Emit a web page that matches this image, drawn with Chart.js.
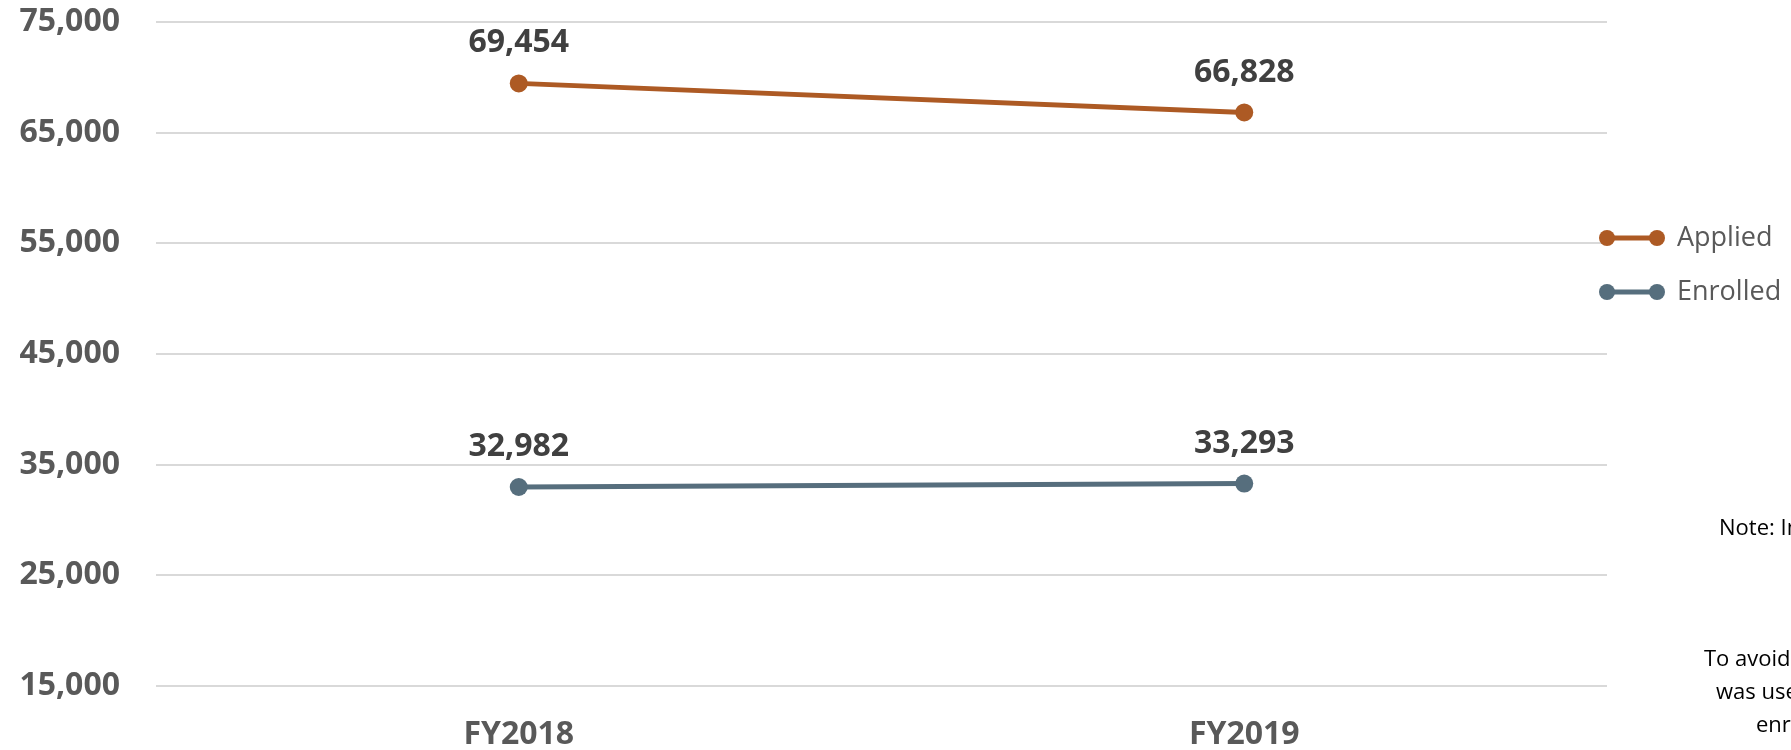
<!DOCTYPE html>
<html>
<head>
<meta charset="utf-8">
<script src="https://cdn.jsdelivr.net/npm/chart.js@4/dist/chart.umd.min.js"></script>
<style>
  html, body { margin: 0; padding: 0; background: #fff; }
  #wrap { width: 1791px; height: 750px; position: relative; }
</style>
</head>
<body>
<div id="wrap"><canvas id="myChart" width="1791" height="750"></canvas></div>
<script>
const categories = ['FY2018', 'FY2019'];
const applied = [69454, 66828];
const enrolled = [32982, 33293];
const seriesNames = ['Applied', 'Enrolled'];
const yMin = 15000;
const yMax = 75000;
const yStep = 10000;
const noteLines = [
    'Note: Includes all campuses',
    'To avoid duplication, a unique headcount',
    'was used for applied and',
    'enrolled students.'
];

const FONT = "'Open Sans', 'DejaVu Sans', sans-serif";

const fmt = v => Number(v).toLocaleString('en-US');

// values drawn above each point
const pointLabels = {
    id: 'pointLabels',
    afterDatasetsDraw(chart) {
        const ctx = chart.ctx;
        ctx.save();
        ctx.font = 'bold 32px ' + FONT;
        ctx.fillStyle = '#404040';
        ctx.textAlign = 'center';
        ctx.textBaseline = 'middle';
        chart.data.datasets.forEach((ds, i) => {
            chart.getDatasetMeta(i).data.forEach((pt, j) => {
                ctx.fillText(fmt(ds.data[j]), pt.x, pt.y - 40);
            });
        });
        ctx.restore();
    }
};

// legend with line + two dots, like the spreadsheet one
const sideLegend = {
    id: 'sideLegend',
    afterDraw(chart) {
        const ctx = chart.ctx;
        const x0 = 1607, x1 = 1657;
        const ys = [238, 292];
        ctx.save();
        chart.data.datasets.forEach((ds, i) => {
            const y = ys[i];
            ctx.strokeStyle = ds.borderColor;
            ctx.lineWidth = 5;
            ctx.beginPath();
            ctx.moveTo(x0, y);
            ctx.lineTo(x1, y);
            ctx.stroke();
            ctx.fillStyle = ds.borderColor;
            [x0, x1].forEach(x => {
                ctx.beginPath();
                ctx.arc(x, y, 8, 0, Math.PI * 2);
                ctx.fill();
            });
            ctx.fillStyle = '#595959';
            ctx.font = '27px ' + FONT;
            ctx.textAlign = 'left';
            ctx.textBaseline = 'middle';
            ctx.fillText(ds.label, 1677, y);
        });

        // note text, cut off at the right edge
        ctx.fillStyle = '#000';
        ctx.font = '22px ' + FONT;
        ctx.textBaseline = 'middle';
        const nx = [1719, 1704, 1716, 1756];
        const ny = [529, 660, 693, 726];
        noteLines.forEach((t, i) => ctx.fillText(t, nx[i], ny[i]));
        ctx.restore();
    }
};

const ctx = document.getElementById('myChart').getContext('2d');

const myChart = new Chart(ctx, {
    type: 'line',
    data: {
        labels: categories,
        datasets: [
            {
                label: seriesNames[0],
                data: applied,
                borderColor: '#AD5A24',
                backgroundColor: '#AD5A24',
                borderWidth: 5,
                pointRadius: 9,
                pointHoverRadius: 9,
                pointBackgroundColor: '#AD5A24',
                pointBorderWidth: 0,
                fill: false,
                tension: 0
            },
            {
                label: seriesNames[1],
                data: enrolled,
                borderColor: '#566E7D',
                backgroundColor: '#566E7D',
                borderWidth: 5,
                pointRadius: 9,
                pointHoverRadius: 9,
                pointBackgroundColor: '#566E7D',
                pointBorderWidth: 0,
                fill: false,
                tension: 0
            }
        ]
    },
    options: {
        responsive: false,
        animation: false,
        devicePixelRatio: 1,
        layout: {
            padding: { top: 22, right: 184, bottom: 0, left: 0 }
        },
        plugins: {
            legend: { display: false },
            tooltip: { enabled: false }
        },
        scales: {
            x: {
                offset: true,
                grid: { display: false, drawTicks: false },
                border: { display: false },
                ticks: {
                    color: '#595959',
                    font: { family: FONT, size: 32, weight: 'bold' },
                    padding: 30
                },
                afterFit(scale) { scale.height = 64; }
            },
            y: {
                min: yMin,
                max: yMax,
                grid: { color: '#d9d9d9', lineWidth: 2, drawTicks: false },
                border: { display: false },
                ticks: {
                    stepSize: yStep,
                    color: '#595959',
                    font: { family: FONT, size: 32, weight: 'bold' },
                    padding: 36,
                    callback: v => fmt(v)
                },
                afterFit(scale) {
                    scale.width = 156;
                    scale.paddingTop = 0;
                    scale.paddingBottom = 0;
                }
            }
        }
    },
    plugins: [pointLabels, sideLegend]
});
</script>
</body>
</html>
